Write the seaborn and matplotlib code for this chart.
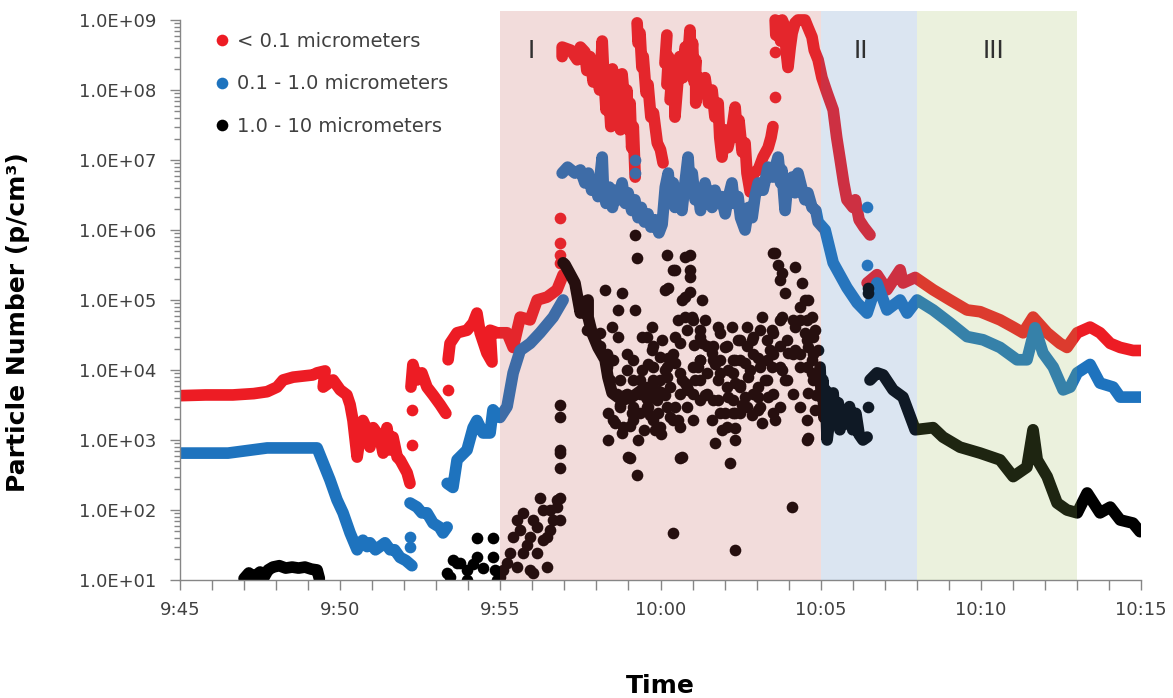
import pandas as pd
import matplotlib
matplotlib.use("Agg")
import matplotlib.pyplot as plt
import seaborn as sns
from matplotlib.lines import Line2D
from matplotlib.ticker import FixedLocator, LogLocator, NullFormatter, MultipleLocator

# ------------------------------------------------------------
# Data: (minutes after 9:45, particles per cm3)
# None marks a gap in the recorded trace
# ------------------------------------------------------------
red_trace = [
    (0.0, 4.3e3), (0.8, 4.4e3), (1.65, 4.4e3), (2.3, 4.6e3), (2.72, 4.9e3), (3.03, 5.7e3),
    (3.22, 7.2e3), (3.53, 7.9e3), (4.15, 8.5e3), (4.28, 9.1e3), (4.53, 9.7e3), (4.47, 5.7e3),
    (4.78, 7.2e3), (5.0, 5.2e3), (5.21, 4.4e3), (5.31, 3.2e3), (5.40, 1.9e3), (5.53, 5.7e2),
    (5.62, 1.1e3), (5.71, 1.9e3), (5.84, 1.4e3), (5.93, 7.9e2), (6.03, 1.5e3), (6.24, 1.1e3),
    (6.34, 6.5e2), (6.46, 1.5e3), (6.56, 7.2e2), (6.65, 1.1e3), (6.78, 5.7e2), (6.87, 5.2e2),
    (7.09, 3.4e2), (7.18, 2.4e2),
    None,
    (7.21, 5.7e3), (7.27, 1.2e4), (7.40, 7.2e3), (7.55, 9.1e3), (7.71, 5.7e3), (7.90, 4.4e3),
    (8.12, 3.2e3), (8.30, 2.4e3),
    None,
    (8.37, 1.4e4), (8.43, 2.4e4), (8.65, 3.4e4), (8.96, 3.7e4), (9.15, 4.7e4), (9.27, 6.5e4),
    (9.37, 3.4e4), (9.58, 1.75e4), (9.74, 1.3e4), (9.68, 3.7e4), (9.90, 3.4e4), (10.21, 3.4e4),
    (10.40, 2.1e4), (10.62, 5.7e4), (10.93, 5.2e4), (11.15, 1.0e5), (11.46, 1.1e5),
    (11.77, 1.4e5), (11.96, 2.3e5),
    None,
    (11.93, 3.0e8), (11.93, 4.1e8), (12.2, 3.7e8), (12.4, 2.7e8), (12.5, 4.1e8), (12.64, 3.5e8),
    (12.7, 1.9e8), (12.8, 3.0e8), (12.9, 1.3e8), (13.0, 2.4e8), (13.1, 1.0e8), (13.18, 5.0e8),
    (13.22, 2.0e8), (13.3, 5.2e7), (13.36, 1.5e8), (13.45, 3.0e7), (13.5, 2.0e8), (13.6, 4.1e7),
    (13.65, 1.3e8), (13.75, 2.7e7), (13.8, 1.7e8), (13.9, 5.2e7), (13.95, 1.0e8), (14.0, 2.7e7),
    (14.05, 6.5e7), (14.1, 1.5e7), (14.15, 3.0e7), (14.21, 5.7e6),
    None,
    (14.27, 9.1e8), (14.3, 4.7e8), (14.36, 6.5e8), (14.42, 2.1e8), (14.46, 3.0e8), (14.55, 9.1e7),
    (14.61, 1.2e8), (14.7, 4.1e7), (14.78, 4.7e7), (14.9, 1.75e7), (15.0, 1.4e7), (15.08, 9.1e6),
    None,
    (15.20, 6.1e8), (15.14, 2.4e8), (15.25, 3.0e8), (15.2, 1.2e8), (15.35, 1.5e8), (15.3, 7.2e7),
    (15.45, 1.0e8), (15.45, 4.1e7), (15.55, 1.5e8), (15.6, 3.0e8), (15.7, 1.5e8), (15.77, 4.1e8),
    (15.86, 3.0e8), (15.92, 7.2e8), (15.95, 2.4e8), (16.0, 4.7e8), (16.05, 1.3e8), (16.1, 2.7e8),
    (16.1, 6.5e7), (16.2, 1.5e8), (16.3, 9.1e7), (16.39, 1.5e8), (16.5, 6.5e7), (16.61, 1.0e8),
    (16.7, 4.1e7), (16.8, 6.5e7), (16.85, 2.1e7), (16.92, 1.1e7), (17.0, 2.7e7), (17.1, 1.5e7),
    (17.23, 2.7e7), (17.33, 5.7e7), (17.4, 2.1e7), (17.45, 3.7e7), (17.55, 1.3e7), (17.64, 1.75e7),
    (17.7, 6.5e6), (17.8, 3.5e6), (17.9, 6.5e6), (18.05, 7.2e6), (18.2, 1.1e7), (18.36, 1.5e7),
    (18.45, 2.1e7), (18.51, 3.0e7),
    None,
    (18.58, 1.0e9), (18.6, 6.1e8), (18.67, 8.5e8), (18.75, 5.0e8), (18.8, 1.0e9), (18.89, 7.9e8),
    (18.92, 3.7e8), (18.98, 2.1e8), (19.05, 4.1e8), (19.11, 6.5e8), (19.2, 9.1e8), (19.29, 1.0e9),
    (19.4, 1.0e9), (19.51, 1.0e9), (19.6, 7.9e8), (19.73, 5.7e8), (19.8, 3.7e8), (19.92, 2.7e8),
    (20.04, 1.5e8), (20.2, 9.1e7), (20.39, 5.2e7), (20.5, 2.1e7), (20.61, 1.0e7), (20.72, 4.7e6),
    (20.82, 2.7e6), (21.01, 2.1e6), (21.08, 2.7e6), (21.20, 1.4e6), (21.35, 1.1e6), (21.54, 8.5e5),
    None,
    (21.45, 1.75e5), (21.76, 2.3e5), (22.07, 1.4e5), (22.48, 2.7e5), (22.57, 1.75e5), (22.95, 2.1e5),
    (23.51, 1.4e5), (24.04, 1.0e5), (24.57, 7.2e4), (24.98, 6.8e4), (25.60, 5.2e4), (26.01, 4.1e4),
    (26.32, 3.4e4), (26.63, 5.7e4), (27.07, 3.4e4), (27.47, 2.4e4), (27.69, 2.1e4), (28.01, 3.4e4),
    (28.41, 4.1e4), (28.72, 3.4e4), (29.04, 2.4e4), (29.35, 2.1e4), (29.75, 1.9e4), (30.0, 1.9e4),
]
red_points = [(7.24, 8.5e2), (7.24, 2.7e3), (8.37, 5.2e3), (11.86, 1.5e6), (11.86, 6.5e5),
              (11.86, 4.4e5), (11.86, 3.4e5), (18.58, 7.9e7), (18.58, 3.5e8)]

blue_trace = [
    (0.0, 6.5e2), (1.5, 6.5e2), (2.72, 7.7e2), (3.5, 7.7e2), (4.28, 7.7e2), (4.43, 5.2e2),
    (4.68, 2.7e2), (4.90, 1.4e2), (5.09, 91), (5.31, 47), (5.53, 27), (5.62, 34), (5.71, 37),
    (5.84, 30), (5.93, 34), (6.1, 27), (6.24, 30), (6.4, 34), (6.56, 27), (6.7, 27), (6.87, 21),
    (7.05, 19), (7.24, 16),
    None,
    (7.18, 1.26e2), (7.40, 1.1e2), (7.55, 91), (7.71, 91), (7.90, 65), (8.10, 57), (8.21, 47),
    (8.34, 57),
    None,
    (8.34, 2.4e2), (8.52, 2.1e2), (8.65, 5.2e2), (8.96, 7.2e2), (9.15, 1.5e3), (9.27, 1.9e3),
    (9.46, 1.26e3), (9.68, 1.26e3), (9.77, 2.7e3), (9.99, 2.1e3), (10.21, 3.0e3), (10.40, 9.1e3),
    (10.62, 1.9e4), (10.93, 2.4e4), (11.24, 3.4e4), (11.65, 5.7e4), (11.96, 1.0e5),
    None,
    (11.93, 6.5e6), (12.1, 7.9e6), (12.33, 6.5e6), (12.5, 7.2e6), (12.64, 4.7e6), (12.75, 6.5e6),
    (12.85, 3.7e6), (12.96, 4.7e6), (13.05, 3.0e6), (13.18, 1.1e7), (13.22, 3.7e6), (13.3, 2.4e6),
    (13.4, 4.1e6), (13.5, 2.1e6), (13.6, 3.7e6), (13.7, 2.7e6), (13.80, 4.7e6), (13.9, 2.4e6),
    (13.99, 3.4e6), (14.1, 1.9e6), (14.2, 2.7e6), (14.30, 1.5e6), (14.4, 2.1e6), (14.5, 1.3e6),
    (14.61, 1.7e6), (14.7, 1.1e6), (14.83, 1.4e6), (14.95, 9.1e5), (15.05, 1.2e6), (15.15, 4.1e6),
    (15.24, 6.5e6), (15.3, 3.0e6), (15.4, 4.7e6), (15.45, 2.1e6), (15.55, 3.4e6), (15.67, 1.9e6),
    (15.75, 4.1e6), (15.86, 1.1e7), (15.92, 4.1e6), (15.99, 6.5e6), (16.08, 2.7e6), (16.17, 3.7e6),
    (16.25, 1.9e6), (16.39, 4.7e6), (16.5, 2.7e6), (16.61, 2.1e6), (16.7, 3.7e6), (16.80, 2.4e6),
    (16.9, 3.0e6), (17.02, 1.7e6), (17.1, 2.7e6), (17.23, 4.7e6), (17.3, 2.4e6), (17.42, 3.0e6),
    (17.5, 1.5e6), (17.64, 1.0e6), (17.75, 2.1e6), (17.86, 1.5e6), (17.95, 3.0e6), (18.05, 4.7e6),
    (18.2, 3.7e6), (18.36, 7.9e6), (18.5, 5.7e6), (18.67, 1.1e7), (18.75, 4.7e6), (18.79, 7.2e6),
    (18.89, 1.9e6), (18.95, 3.7e6), (19.11, 5.7e6), (19.2, 3.4e6), (19.29, 6.5e6), (19.4, 4.1e6),
    (19.51, 2.7e6), (19.6, 3.4e6), (19.73, 2.1e6), (19.85, 1.9e6), (19.92, 1.3e6), (20.14, 1.0e6),
    (20.39, 3.4e5), (20.82, 1.5e5), (21.14, 9.1e4), (21.45, 6.5e4), (21.76, 1.75e5), (22.07, 7.2e4),
    (22.48, 1.0e5), (22.70, 6.5e4), (23.01, 1.0e5), (23.51, 7.2e4), (24.04, 4.7e4), (24.57, 3.0e4),
    (25.07, 2.7e4), (25.60, 2.1e4), (26.13, 1.4e4), (26.44, 1.4e4), (26.69, 4.0e4), (26.94, 1.75e4),
    (27.26, 1.1e4), (27.57, 5.2e3), (27.79, 5.7e3), (28.01, 9.1e3), (28.41, 1.2e4), (28.72, 6.5e3),
    (29.13, 5.7e3), (29.35, 4.1e3), (29.75, 4.1e3), (30.0, 4.1e3),
]
blue_points = [(7.18, 41), (7.18, 30), (14.21, 1.0e7), (14.21, 6.5e6), (21.45, 2.1e6), (21.45, 3.2e5)]

black_trace = [
    (2.0, 10.5), (2.15, 12.6), (2.3, 11), (2.5, 13), (2.6, 10.5), (2.75, 13.9), (2.9, 15.3),
    (3.1, 16), (3.3, 14.8), (3.5, 15.3), (3.7, 14.8), (3.9, 15.3), (4.1, 14.3), (4.28, 13.9),
    (4.35, 10.5),
    None,
    (11.96, 3.4e5), (12.02, 3.2e5), (12.33, 1.75e5), (12.5, 6.5e4), (12.55, 9.1e4), (12.74, 1.0e5),
    (12.74, 5.7e4), (12.86, 3.4e4), (13.05, 2.1e4), (13.27, 1.4e4), (13.36, 7.9e3), (13.49, 4.7e3),
    (13.80, 3.7e3), (14.11, 4.1e3), (14.42, 5.2e3), (14.61, 3.7e3), (14.83, 5.2e3), (15.05, 4.7e3),
    None,
    (19.98, 1.1e4), (20.02, 4.1e3), (20.07, 7.2e3), (20.1, 2.1e3), (20.15, 5.2e3), (20.2, 1.0e3),
    (20.3, 2.4e3), (20.39, 4.7e3), (20.45, 1.9e3), (20.55, 3.4e3), (20.6, 1.4e3), (20.7, 2.7e3),
    (20.8, 1.7e3), (20.9, 3.0e3), (21.0, 1.4e3), (21.1, 2.4e3), (21.2, 1.2e3), (21.32, 1.0e3),
    (21.45, 1.1e3),
    None,
    (21.54, 7.2e3), (21.76, 9.1e3), (21.95, 8.5e3), (22.26, 5.2e3), (22.57, 4.1e3), (22.95, 1.4e3),
    (23.51, 1.5e3), (23.82, 1.1e3), (24.35, 7.9e2), (24.98, 6.5e2), (25.60, 5.2e2), (26.01, 3.0e2),
    (26.44, 4.1e2), (26.63, 1.4e3), (26.76, 5.2e2), (27.07, 3.0e2), (27.38, 1.26e2), (27.69, 1.0e2),
    (28.01, 91), (28.32, 1.75e2), (28.72, 91), (29.04, 1.1e2), (29.35, 72), (29.75, 65), (29.97, 49),
]
black_points = [
    # 9:53 - 9:55
    (8.34, 12.6), (8.43, 11), (8.52, 19), (8.65, 17.5), (8.74, 17.5), (8.96, 13.9), (8.96, 10),
    (9.15, 17), (9.27, 21), (9.27, 40), (9.46, 15), (9.77, 40), (9.77, 21), (9.83, 13.9), (9.90, 10),
    # 9:55 - 9:57
    (9.99, 11), (10.08, 13.9), (10.21, 17.5), (10.30, 24), (10.40, 41), (10.52, 72), (10.52, 15.3),
    (10.62, 52), (10.71, 91), (10.71, 24), (10.83, 32), (10.93, 13.9), (10.93, 41), (11.02, 12.6),
    (11.02, 72), (11.15, 57), (11.15, 24), (11.24, 150), (11.33, 100), (11.33, 37), (11.46, 41),
    (11.46, 15.3), (11.55, 100), (11.55, 52), (11.65, 72), (11.77, 110), (11.77, 140), (11.86, 150),
    (11.86, 72), (11.86, 3.2e3), (11.86, 2.1e3), (11.86, 7.2e2), (11.86, 6.5e2), (11.86, 4.0e2),
    # 9:58 - 10:01
    (13.27, 1.4e5), (13.80, 1.26e5), (13.67, 7.2e4), (14.21, 7.2e4), (13.49, 4.1e4), (13.67, 3.0e4),
    (14.42, 3.0e4), (14.74, 4.1e4), (14.74, 1.9e4), (15.05, 2.7e4), (15.24, 1.5e4), (15.45, 1.26e4),
    (15.14, 1.0e4), (14.42, 1.0e4), (14.27, 4.0e5), (14.21, 8.5e5), (15.20, 4.4e5), (15.45, 2.7e5),
    (15.39, 2.7e5), (15.24, 1.5e5), (15.14, 1.4e5), (15.77, 4.1e5), (15.67, 1.0e5), (15.55, 5.2e4),
    (15.45, 3.0e4), (13.36, 2.4e3), (13.58, 1.75e3), (14.11, 2.4e3), (13.80, 1.26e3), (13.36, 1.0e3),
    (14.30, 1.0e3), (13.99, 5.7e2), (14.83, 1.4e3), (14.92, 2.4e3), (15.45, 3.0e3), (15.55, 1.9e3),
    (15.67, 7.2e3), (15.67, 5.7e2), (13.11, 1.9e4), (13.49, 1.4e4), (13.89, 4.4e3), (14.52, 4.4e3),
    (14.36, 7.2e3), (14.61, 1.2e4), (14.99, 7.2e3), (15.14, 4.4e3), (14.67, 2.3e3), (13.74, 3.2e3),
    (14.05, 1.6e3), (14.6, 3.0e3), (14.9, 3.7e3), (15.3, 2.1e3), (15.3, 5.7e3), (15.0, 1.2e3),
    (14.5, 1.4e3), (14.05, 5.5e2), (14.27, 3.2e2), (15.61, 5.5e2), (15.39, 47),
    (12.70, 3.7e4), (12.91, 3.0e4), (13.11, 2.2e4), (13.32, 1.7e4), (13.53, 1.4e4), (13.42, 7.2e3),
    (13.63, 4.6e3), (13.74, 3.0e3), (13.53, 1.9e3), (13.84, 1.55e3), (14.15, 3.0e3), (14.36, 4.6e3),
    (14.57, 5.8e3), (14.78, 7.2e3), (14.99, 4.6e3), (15.19, 3.0e3), (14.78, 1.9e3), (14.99, 1.55e3),
    (14.57, 3.0e4), (14.78, 2.2e4), (14.99, 1.55e4), (15.19, 1.1e4), (15.40, 1.7e4), (15.61, 2.4e4),
    (15.82, 3.7e4), (13.95, 1.0e4), (14.15, 1.4e4), (15.61, 9.0e3), (15.82, 5.8e3),
    (15.19, 8.0e3), (15.61, 4.6e3), (15.82, 3.0e3), (15.40, 1.9e3), (15.61, 1.55e3), (13.95, 4.6e3),
    (14.15, 1.9e3), (14.36, 2.4e3), (14.57, 3.0e3), (14.78, 1.1e4), (14.15, 7.2e3), (13.95, 1.7e4),
    (13.74, 7.2e3), (13.32, 1.1e4), (13.11, 3.4e4),
    # 10:01 - 10:05
    (15.92, 4.4e5), (15.92, 2.7e5), (15.92, 2.1e5), (15.92, 1.3e5), (16.30, 1.0e5), (15.99, 5.7e4),
    (16.39, 5.2e4), (16.80, 4.1e4), (17.23, 4.1e4), (16.30, 2.4e4), (16.61, 1.75e4), (16.17, 1.1e4),
    (17.02, 2.1e4), (17.42, 2.7e4), (17.86, 2.7e4), (18.17, 5.7e4), (18.48, 3.7e4), (18.79, 5.7e4),
    (19.20, 4.1e4), (19.51, 3.4e4), (18.58, 4.7e5), (18.51, 4.7e5), (18.67, 3.2e5), (18.73, 1.9e5),
    (18.79, 2.4e5), (18.89, 1.26e5), (19.20, 3.0e5), (19.42, 1.75e5), (19.61, 1.0e5), (19.73, 5.7e4),
    (17.33, 1.4e4), (17.64, 1.26e4), (18.05, 1.5e4), (18.48, 1.1e4), (18.79, 1.0e4), (18.98, 1.75e4),
    (19.61, 2.1e4), (19.73, 1.4e4), (16.80, 7.2e3), (17.33, 6.5e3), (17.73, 7.9e3), (18.05, 5.7e3),
    (18.89, 7.2e3), (19.73, 9.1e3), (19.61, 4.7e3), (16.80, 3.7e3), (17.11, 4.1e3), (17.64, 4.1e3),
    (18.05, 4.1e3), (18.36, 4.1e3), (17.02, 2.4e3), (17.33, 2.4e3), (18.05, 2.7e3), (18.58, 1.9e3),
    (19.83, 2.7e3), (16.61, 1.9e3), (16.92, 1.4e3), (17.33, 1.5e3), (18.17, 1.75e3), (16.70, 9.1e2),
    (17.33, 1.0e3), (19.58, 1.0e3), (17.17, 4.7e2), (15.77, 6.5e3), (15.86, 5.2e3), (15.77, 1.1e5),
    (15.77, 5.7e4), (16.24, 3.7e4), (16.70, 1.2e4), (17.11, 1.0e4), (17.48, 6.1e3), (17.80, 1.0e4),
    (18.27, 7.2e3), (18.42, 1.9e4), (18.73, 2.2e4), (19.20, 1.9e4), (19.36, 5.2e4), (19.51, 1.0e5),
    (19.83, 3.7e4), (19.92, 1.9e4), (19.86, 4.4e3), (17.55, 3.2e3), (17.86, 2.3e3), (16.39, 4.4e3),
    (16.08, 7.2e3), (16.24, 1.4e4), (16.05, 2.3e4), (17.33, 27), (19.11, 1.1e2), (19.61, 1.07e3),
    (16.03, 5.2e4), (16.23, 3.0e4), (16.44, 2.2e4), (16.65, 1.4e4), (16.86, 9.0e3), (17.07, 5.8e3),
    (17.27, 3.7e3), (17.48, 2.4e3), (16.65, 3.7e3), (16.86, 2.4e3), (17.07, 1.55e3), (17.27, 9.0e3),
    (17.48, 1.4e4), (17.69, 2.2e4), (17.90, 3.0e4), (18.11, 3.7e4), (18.32, 2.7e4), (18.52, 1.7e4),
    (18.73, 1.1e4), (18.94, 7.2e3), (19.15, 4.6e3), (19.36, 3.0e3), (19.57, 1.9e3), (18.32, 7.2e3),
    (18.52, 4.6e3), (18.73, 3.0e3), (17.90, 4.6e3), (17.69, 3.0e3), (17.48, 5.8e3), (19.36, 1.7e4),
    (19.57, 1.1e4), (19.77, 7.2e3), (19.15, 5.2e4), (19.36, 8.0e4), (19.57, 5.2e4), (19.77, 3.0e4),
    (16.03, 1.1e4), (16.23, 7.2e3), (16.44, 4.6e3),
    (16.03, 1.9e3), (16.23, 3.7e3), (16.44, 9.0e3), (16.65, 2.2e4), (16.86, 3.4e4), (17.07, 2.2e4),
    (17.27, 1.4e4), (17.48, 2.7e4), (17.69, 4.1e4), (17.90, 1.7e4), (18.11, 1.1e4), (18.32, 1.4e4),
    (18.52, 3.4e4), (18.73, 5.2e4), (18.94, 2.7e4), (19.15, 1.7e4), (19.36, 1.1e4), (19.57, 2.7e4),
    (19.77, 1.7e4), (16.03, 4.6e3), (16.23, 1.4e4), (16.86, 1.4e4), (17.27, 2.4e3), (18.11, 3.0e3),
    (18.52, 2.4e3),
    # 10:06
    (21.48, 1.5e5), (21.48, 1.26e5), (21.48, 3.0e3),
]

series_labels = ["< 0.1 micrometers", "0.1 - 1.0 micrometers", "1.0 - 10 micrometers"]
series_colors = ["#ED1C24", "#1E73BE", "#000000"]

# phases: start / end in minutes after 9:45
phase_bounds = [(10, 20), (20, 23), (23, 28)]
phase_colors = ["#C0504D", "#4F81BD", "#9BBB59"]
phase_names = ["I", "II", "III"]
phase_label_x = [10.96, 21.26, 25.38]

xtick_labels = ["9:45", "9:50", "9:55", "10:00", "10:05", "10:10", "10:15"]
ytick_labels = ["1.0E+01", "1.0E+02", "1.0E+03", "1.0E+04", "1.0E+05",
                "1.0E+06", "1.0E+07", "1.0E+08", "1.0E+09"]


def trace_frame(pairs):
    rows, seg = [], 0
    for p in pairs:
        if p is None:
            seg += 1
            continue
        rows.append((p[0], p[1], seg))
    return pd.DataFrame(rows, columns=["minute", "count", "seg"])


sns.set_theme(style="white")
plt.rcParams["font.family"] = ["DejaVu Sans"]

fig = plt.figure(figsize=(11.73, 6.98), dpi=100)
ax = fig.add_axes([180 / 1173, 118 / 698, 961 / 1173, 569 / 698])
ax.set_yscale("log")

DOT = 8.4  # marker diameter in points
traces = [red_trace, blue_trace, black_trace]
points = [red_points, blue_points, black_points]
for trace, pts, color in zip(traces, points, series_colors):
    df = trace_frame(trace)
    sns.lineplot(data=df, x="minute", y="count", units="seg", estimator=None, sort=False,
                 color=color, linewidth=DOT, solid_capstyle="round", solid_joinstyle="round",
                 ax=ax, zorder=2)
    sns.scatterplot(x=[p[0] for p in pts], y=[p[1] for p in pts], color=color,
                    s=DOT ** 2, linewidth=0, ax=ax, zorder=2)

# translucent phase bands drawn over the data (as in the source)
for (x0, x1), c in zip(phase_bounds, phase_colors):
    ax.axvspan(x0, x1, color=c, alpha=0.2, lw=0, zorder=3)
for name, xp in zip(phase_names, phase_label_x):
    ax.text(xp, 3.6e8, name, ha="center", va="center", fontsize=19,
            color="#303030", family="Liberation Sans", zorder=4)

ax.set_xlim(0, 30)
ax.set_ylim(10, 10 ** (9 + 9 / 70))

ax.xaxis.set_major_locator(FixedLocator(range(0, 31, 5)))
ax.set_xticklabels(xtick_labels)
ax.xaxis.set_minor_locator(MultipleLocator(1))
ax.yaxis.set_major_locator(FixedLocator([10.0 ** k for k in range(1, 10)]))
ax.set_yticklabels(ytick_labels)
ax.yaxis.set_minor_locator(LogLocator(base=10, subs=range(2, 10)))
ax.yaxis.set_minor_formatter(NullFormatter())

ax.tick_params(axis="x", which="both", bottom=True, direction="out", length=7, width=1,
               color="#868686", labelsize=13, labelcolor="#404040", pad=8)
ax.tick_params(axis="y", which="major", left=True, direction="out", length=7, width=1,
               color="#868686", labelsize=13, labelcolor="#404040", pad=10)
ax.tick_params(axis="y", which="minor", left=True, direction="out", length=4, width=1,
               color="#868686")

for side in ["top", "right"]:
    ax.spines[side].set_visible(False)
for side in ["left", "bottom"]:
    ax.spines[side].set_color("#868686")
    ax.spines[side].set_linewidth(1)
ax.spines["left"].set_bounds(10, 1e9)
ax.grid(False)

ax.set_xlabel("Time", fontsize=18, fontweight="bold", color="black")
ax.xaxis.set_label_coords(0.5, -0.165)
ax.set_ylabel("Particle Number (p/cm³)", fontsize=18, fontweight="bold", color="black")
ax.yaxis.set_label_coords(-0.156, 0.453)

handles = [Line2D([], [], ls="", marker="o", markersize=DOT, markeredgewidth=0, color=c)
           for c in series_colors]
leg = ax.legend(handles, series_labels, loc="upper left", bbox_to_anchor=(0.0354, 0.963),
                frameon=False, fontsize=14, handlelength=0.8, handletextpad=0.4,
                labelspacing=1.2, borderpad=0, borderaxespad=0)
for t in leg.get_texts():
    t.set_color("#404040")
leg.set_zorder(5)

fig.savefig("out.png", dpi=100)
